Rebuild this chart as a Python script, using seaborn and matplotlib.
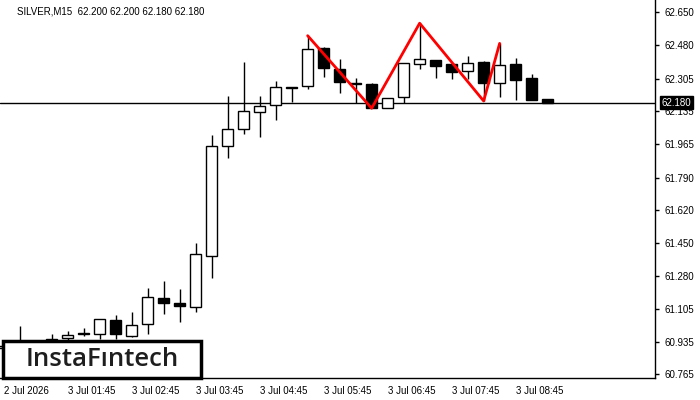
import numpy as np
import pandas as pd
import seaborn as sns
import matplotlib.pyplot as plt
from matplotlib.patches import Rectangle

# SILVER M15 bars (first three sit behind the logo)
opens = [60.900, 60.930, 60.925, 60.949, 60.953, 60.980, 60.974, 61.048, 60.966, 61.026,
         61.161, 61.138, 61.117, 61.383, 61.956, 62.045, 62.130, 62.166, 62.260, 62.265,
         62.465, 62.356, 62.284, 62.276, 62.151, 62.208, 62.380, 62.401, 62.382, 62.344,
         62.392, 62.281, 62.382, 62.310, 62.200]
highs = [60.925, 61.018, 60.935, 60.975, 60.991, 61.005, 61.055, 61.074, 61.090, 61.213,
         61.251, 61.210, 61.451, 62.012, 62.215, 62.392, 62.215, 62.293, 62.262, 62.529,
         62.472, 62.409, 62.310, 62.283, 62.205, 62.388, 62.594, 62.403, 62.384, 62.422,
         62.395, 62.489, 62.414, 62.329, 62.200]
lows = [60.880, 60.910, 60.900, 60.920, 60.940, 60.965, 60.948, 60.948, 60.961, 60.974,
        61.078, 61.036, 61.091, 61.269, 61.894, 62.019, 62.003, 62.091, 62.185, 62.250,
        62.315, 62.232, 62.180, 62.151, 62.150, 62.180, 62.354, 62.310, 62.302, 62.303,
        62.189, 62.211, 62.194, 62.194, 62.180]
closes = [60.915, 60.925, 60.930, 60.940, 60.970, 60.974, 61.052, 60.974, 61.021, 61.166,
          61.138, 61.123, 61.390, 61.953, 62.041, 62.135, 62.161, 62.260, 62.256, 62.458,
          62.359, 62.289, 62.280, 62.154, 62.203, 62.385, 62.406, 62.373, 62.338, 62.385,
          62.284, 62.376, 62.300, 62.196, 62.180]

time_ticks = [0, 4, 8, 12, 16, 20, 24, 28, 32]
time_labels = ["2 Jul 2026", "3 Jul 01:45", "3 Jul 02:45", "3 Jul 03:45", "3 Jul 04:45",
               "3 Jul 05:45", "3 Jul 06:45", "3 Jul 07:45", "3 Jul 08:45"]
price_ticks = [62.650, 62.480, 62.305, 62.135, 61.965, 61.790, 61.620, 61.450,
               61.280, 61.105, 60.935, 60.765]
last_price = 62.180

# pattern drawn in red
pattern_bars = [19, 23, 26, 30, 31]
pattern_prices = [62.529, 62.151, 62.594, 62.189, 62.489]

sns.set_style("white")
plt.rcParams['font.family'] = ['Liberation Sans', 'DejaVu Sans']

df = pd.DataFrame({"open": opens, "high": highs, "low": lows, "close": closes})
df["bar"] = np.arange(len(df))
up = df["close"] >= df["open"]

fig = plt.figure(figsize=(7, 4), dpi=100)
ax = fig.add_axes([0, 22 / 400, 655 / 700, 378 / 400])

# wicks then bodies
ax.vlines(df["bar"], df["low"], df["high"], color="black", lw=1, zorder=2)
body_low = np.minimum(df["open"], df["close"])
body_h = np.maximum((df["close"] - df["open"]).abs(), 0.002)
ax.bar(df["bar"], body_h, bottom=body_low, width=0.66,
       color=np.where(up, "white", "black"), edgecolor="black", linewidth=1, zorder=3)

sns.lineplot(x=pattern_bars, y=pattern_prices, color="red", lw=2, estimator=None,
             ax=ax, zorder=5)

ax.axhline(last_price, color="black", lw=1, zorder=1)

ax.set_xlim(-0.23, 40.71)
ax.set_ylim(60.7462, 62.7149)

ax.yaxis.tick_right()
ax.set_yticks(price_ticks)
ax.set_yticklabels([f"{v:.3f}" for v in price_ticks])
ax.set_xticks(time_ticks)
ax.set_xticklabels(time_labels, ha="left")
ax.tick_params(axis="both", direction="out", length=3, width=1, labelsize=7,
               colors="black", pad=3)
ax.tick_params(axis="y", pad=4)

for side in ["top", "left"]:
    ax.spines[side].set_visible(False)
for side in ["right", "bottom"]:
    ax.spines[side].set_color("black")
    ax.spines[side].set_linewidth(1)
ax.grid(False)

ax.annotate(f"{last_price:.3f}", xy=(1, last_price), xycoords=ax.get_yaxis_transform(),
            xytext=(5, 0), textcoords="offset points", va="center", ha="left",
            color="white", fontsize=7, annotation_clip=False,
            bbox=dict(boxstyle="square,pad=0.15", fc="black", ec="black"))

ax.text(17 / 655, 1 - 12 / 378, "SILVER,M15  62.200 62.200 62.180 62.180",
        transform=ax.transAxes, fontsize=7, va="center", ha="left", color="black")

# logo box
fig.patches.append(Rectangle((3 / 700, 22 / 400), 198 / 700, 37 / 400,
                             transform=fig.transFigure, facecolor="white",
                             edgecolor="black", linewidth=2.5, zorder=10))
fig.text(102 / 700, 1 - 359 / 400, "InstaF\u0131ntech", ha="center", va="center",
         fontsize=18.5, fontweight=600, color="#1e1e1e",
         family=["Open Sans", "DejaVu Sans"], zorder=11)

fig.savefig("out.png", dpi=100)
